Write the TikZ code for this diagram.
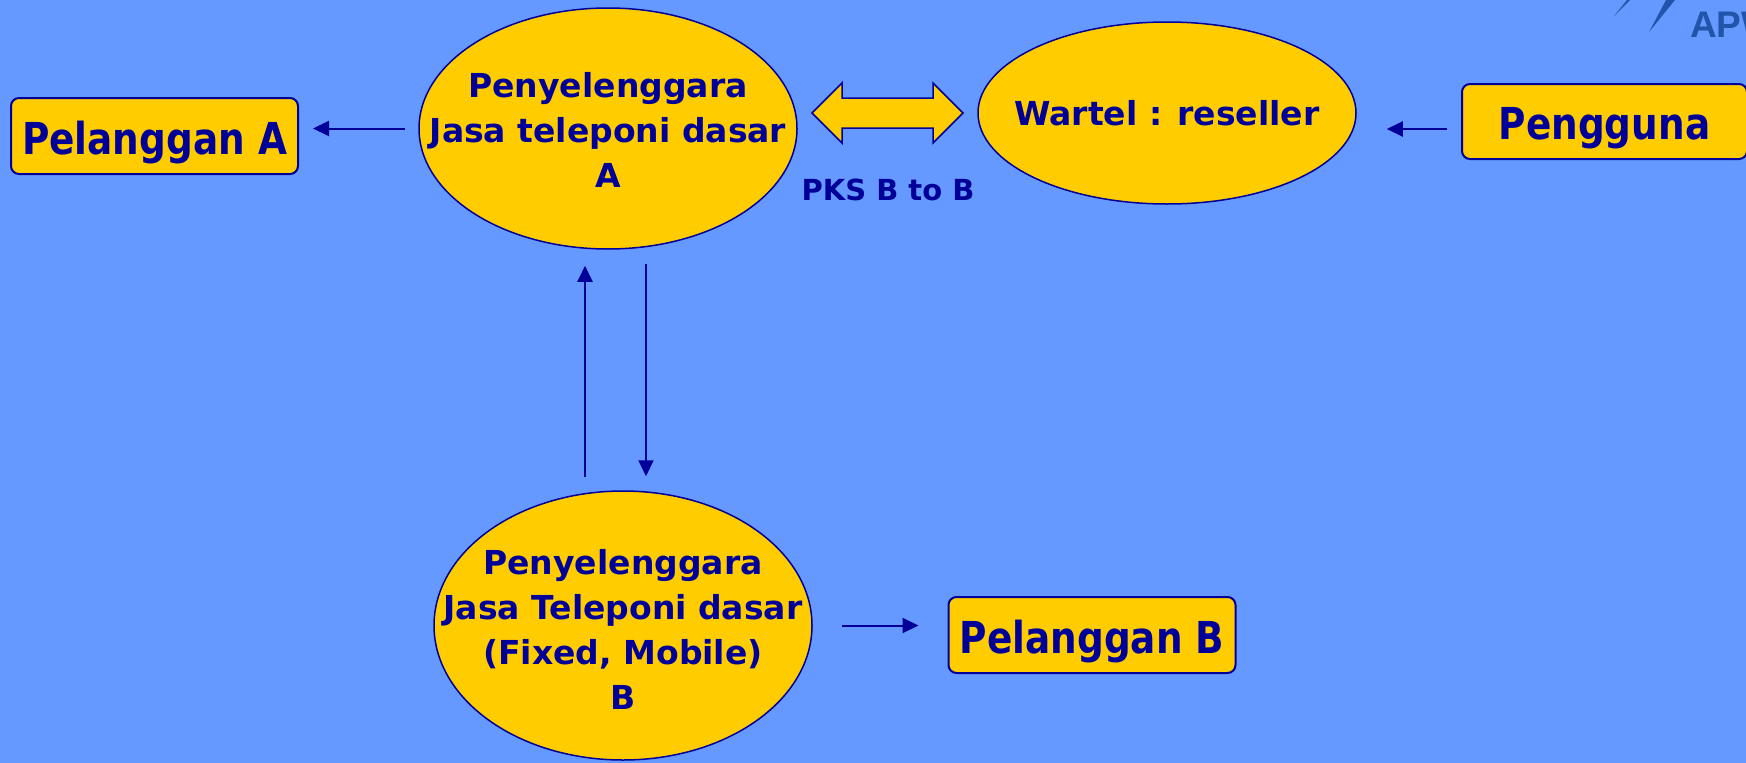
\documentclass[tikz,border=0pt]{standalone}
\usepackage{fontspec}
\setmainfont{DejaVu Sans}
\newfontfamily\boxfont{DejaVu Sans}[FakeStretch=0.85]
\newfontfamily\logofont{Liberation Sans}
\usepackage{tikz}
\usetikzlibrary{shapes.geometric,arrows.meta}

\definecolor{bgblue}{RGB}{102,153,255}
\definecolor{gold}{RGB}{255,204,0}
\definecolor{navy}{RGB}{0,0,153}
\definecolor{logoblue}{RGB}{34,85,170}

\begin{document}
\begin{tikzpicture}[x=1pt,y=-1pt,
    oval/.style={ellipse, draw=navy, fill=gold, line width=1.5pt, inner sep=0pt},
    ovaltext/.style={align=center, text=navy, inner sep=0pt, font=\bfseries\fontsize{33}{45}\selectfont},
    custbox/.style={draw=navy, fill=gold, line width=2pt, rounded corners=8pt, minimum width=287pt, minimum height=76pt, inner sep=0pt, text=navy, font=\boxfont\bfseries\fontsize{44}{50}\selectfont, text height=46pt, text depth=10pt},
    flow/.style={draw=navy, line width=2pt, -{Triangle[length=16pt,width=15pt]}}]
    \useasboundingbox (0,0) rectangle (1746,763);
    \fill[bgblue] (0,0) rectangle (1746,763);

    %Shape: Ellipse
    \node[oval, minimum width=378pt, minimum height=241pt] (opA) at (608,128.5) {};
    \node[ovaltext] (opAtext) at (608,130) {Penyelenggara\\Jasa teleponi dasar\\A};
    %Shape: Ellipse
    \node[oval, minimum width=378pt, minimum height=182pt] (wartel) at (1167,113) {};
    \node[ovaltext] (warteltext) at (1167,113) {Wartel : reseller};
    %Shape: Ellipse
    \node[oval, minimum width=378pt, minimum height=269pt] (opB) at (623,625.5) {};
    \node[ovaltext] (opBtext) at (623,629) {Penyelenggara\\Jasa Teleponi dasar\\(Fixed, Mobile)\\B};

    %Shape: Rounded Rect
    \node[custbox] (pelA) at (154.5,136) {Pelanggan A};
    \node[custbox] (pelB) at (1092,635) {Pelanggan B};
    \node[custbox, minimum width=285pt, minimum height=75pt] (user) at (1604.5,121.5) {Pengguna};

    %Left-Right Arrow
    \draw[draw=navy, fill=gold, line width=1.5pt, line join=miter] (812,113) -- (842,83) -- (842,98) -- (933,98) -- (933,83) -- (963,113) -- (933,143) -- (933,128) -- (842,128) -- (842,143) -- cycle;
    % Text Node
    \node[text=navy, inner sep=0pt, font=\bfseries\fontsize{29}{35}\selectfont] (pks) at (888,190) {PKS B to B};

    %Straight Lines
    \draw[flow, shorten <=13pt, shorten >=14pt] (opA.west) -- (opA.west -| pelA.east);
    \coordinate (userin) at ([yshift=-7.5pt]user.west);
    \draw[flow, shorten <=14pt, shorten >=30pt] (userin) -- (userin -| wartel.east);
    \draw[flow, shorten <=13pt, shorten >=16pt] ([xshift=-38pt]opB.north) -- ([xshift=-23pt]opA.south);
    \draw[flow, shorten <=14pt, shorten >=14pt] ([xshift=38pt]opA.south) -- ([xshift=23pt]opB.north);
    \draw[flow, shorten <=29pt, shorten >=29pt] (opB.east) -- (opB.east -| pelB.west);

    %Logo
    \fill[logoblue] (1614,16) -- (1627,0) -- (1630,0) -- cycle;
    \fill[logoblue] (1649,32) -- (1666,0) -- (1675,0) -- cycle;
    \node[anchor=base west, inner sep=0pt, text=logoblue, font=\logofont\bfseries\fontsize{37}{40}\selectfont] (logo) at (1690,37) {APW};
\end{tikzpicture}
\end{document}
